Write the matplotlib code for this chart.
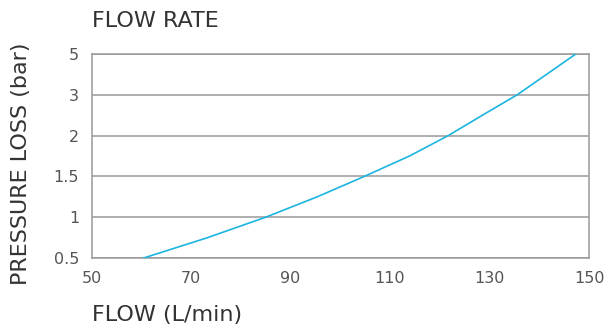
import matplotlib.pyplot as plt
import numpy as np

# pressure levels shown on the y axis (equally spaced on the chart)
levels = [0.5, 1, 1.5, 2, 3, 5]
level_labels = ["0.5", "1", "1.5", "2", "3", "5"]
xticks = [50, 70, 90, 110, 130, 150]

# curve
flow = [60.3, 73.2, 84.9, 95.3, 104.8, 113.9, 121.7, 128.6, 135.6, 141.5, 147.4]
pressure = [0.5, 0.75, 1.0, 1.25, 1.5, 1.75, 2.0, 2.5, 3.0, 4.0, 5.0]

idx = np.arange(len(levels))


def forward(v):
    return np.interp(v, levels, idx)


def inverse(v):
    return np.interp(v, idx, levels)


plt.rcParams['font.family'] = ['DejaVu Sans']

fig = plt.figure(figsize=(6.11, 3.28), dpi=100)
ax = fig.add_axes([0.1498, 0.2125, 0.8142, 0.6235])

ax.set_yscale('function', functions=(forward, inverse))
ax.set_xlim(50, 150)
ax.set_ylim(0.5, 5)

grid_col = '#999999'
for lv in levels:
    ax.axhline(lv, color=grid_col, lw=1.1, zorder=1)

ax.plot(flow, pressure, color='#1cb5e0', lw=1.2, zorder=3)

for s in ax.spines.values():
    s.set_color(grid_col)
    s.set_linewidth(1.1)

ax.set_yticks(levels)
ax.set_yticklabels(level_labels)
ax.set_xticks(xticks)
ax.set_xticklabels([str(x) for x in xticks])
ax.minorticks_off()
ax.tick_params(axis='both', length=0, labelsize=11.5, colors='#555555')
ax.tick_params(axis='y', pad=9)
ax.tick_params(axis='x', pad=9)

fig.text(0.1506, 0.935, "FLOW RATE", fontsize=16, color='#333333', va='center', ha='left')
fig.text(0.1506, 0.04, "FLOW (L/min)", fontsize=16, color='#333333', va='center', ha='left')
fig.text(0.034, 0.50, "PRESSURE LOSS (bar)", fontsize=16, color='#333333',
         va='center', ha='center', rotation=90)

plt.savefig('out.png', dpi=100)
